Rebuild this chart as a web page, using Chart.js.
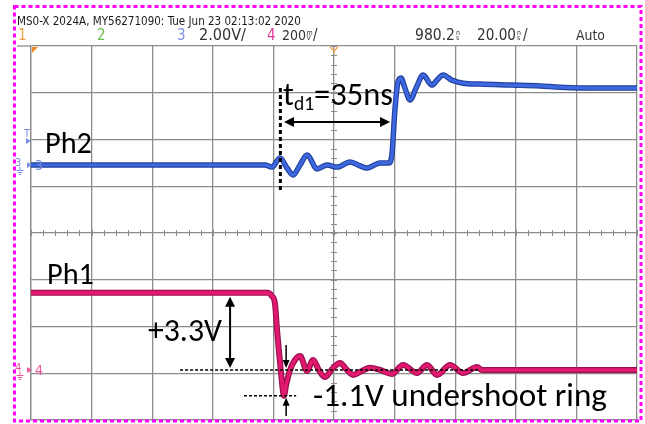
<!DOCTYPE html>
<html>
<head>
<meta charset="utf-8">
<script src="https://cdn.jsdelivr.net/npm/chart.js@4.4.1/dist/chart.umd.min.js"></script>
<style>
  html, body { margin: 0; padding: 0; background: #ffffff; }
  canvas { display: block; }
</style>
</head>
<body>
<canvas id="scope" width="645" height="424"></canvas>
<script>
// ---- Acquisition data (time in ns from left graticule edge, volts relative to channel ground) ----
const ph2Time  = [0, 20, 40, 60, 77.2, 79.5, 82.2, 84.5, 86.5, 88.8, 91.1, 94.4, 97.7, 101, 105.3, 108.6, 110.9, 115.2, 118.1, 119.1, 120.1, 121.1, 122.1, 123.4, 125.1, 127.1, 129.4, 132.3, 134, 136, 138.9, 142.6, 148.2, 158.1, 168, 174.6, 187.8, 200];
const ph2Volts = [0, 0, 0, 0, 0, -0.09, 0.30, -0.13, -0.43, 0, 0.43, -0.17, 0, -0.09, 0.13, -0.04, -0.13, 0.09, 0.09, 0.43, 2.35, 3.55, 3.72, 3.29, 2.78, 3.29, 3.85, 3.42, 3.63, 3.85, 3.63, 3.50, 3.46, 3.42, 3.38, 3.33, 3.29, 3.29];

const ph1Time  = [0, 40, 78.2, 79.5, 80.5, 81.2, 81.8, 82.5, 83.5, 84.2, 85.5, 87.1, 88.8, 91.1, 93.1, 95, 97, 99.7, 102, 104.3, 106.3, 109.2, 111.9, 115.2, 119.1, 122.8, 127.4, 130.7, 134, 138.3, 142.6, 147.2, 148.8, 170, 200];
const ph1Volts = [3.3, 3.3, 3.3, 3.16, 2.86, 1.71, 0.85, -0.09, -1.1, -0.64, 0, 0.43, 0.60, -0.04, 0.43, 0, -0.30, 0.09, 0.30, 0, -0.21, -0.04, 0.09, 0, -0.17, 0.21, -0.13, 0.21, -0.21, 0.21, -0.13, 0.13, 0, 0, 0];

// Channel ground positions on the 2 V/div screen scale
const ph2Ground = 2.91;
const ph1Ground = -5.86;

// Annotated quantities
const ph1High = 3.3;        // +3.3V swing
const ph1Undershoot = -1.1; // -1.1V undershoot
const tdStart = 83.5;       // start of the delay measurement (ns)
const td1 = 35;             // t_d1 = 35 ns

// Screen graticule: 10 x 8 divisions
const timeMin = 0, timeMax = 200, timeDiv = 20;
const voltMin = -8, voltMax = 8, voltDiv = 2;

const GRID = '#8c8c8c';

function toPoints(times, volts, offset) {
  return times.map((t, i) => ({ x: t, y: volts[i] + offset }));
}

const ph2Points = toPoints(ph2Time, ph2Volts, ph2Ground);
const ph1Points = toPoints(ph1Time, ph1Volts, ph1Ground);

function traceSet(label, pts, color, width) {
  return {
    label, data: pts, borderColor: color, borderWidth: width,
    pointRadius: 0, fill: false, cubicInterpolationMode: 'monotone',
    borderJoinStyle: 'round', borderCapStyle: 'butt'
  };
}

// ---- Drawing helpers ----
function fitSize(ctx, text, width, family, weight) {
  ctx.font = `${weight || 'normal'} 100px ${family}`;
  return 100 * width / ctx.measureText(text).width;
}
function drawFitted(ctx, text, x, base, width, family, color, weight) {
  const s = fitSize(ctx, text, width, family, weight);
  ctx.font = `${weight || 'normal'} ${s}px ${family}`;
  ctx.fillStyle = color;
  ctx.textBaseline = 'alphabetic';
  ctx.textAlign = 'left';
  ctx.fillText(text, x, base);
  return s;
}
function drawAt(ctx, text, x, base, size, family, color) {
  ctx.font = `${size}px ${family}`;
  ctx.fillStyle = color;
  ctx.fillText(text, x, base);
}
function line(ctx, x1, y1, x2, y2) {
  ctx.beginPath(); ctx.moveTo(x1, y1); ctx.lineTo(x2, y2); ctx.stroke();
}
function head(ctx, tx, ty, dx, dy, len, half) {
  const n = Math.hypot(dx, dy); dx /= n; dy /= n;
  const bx = tx - dx * len, by = ty - dy * len;
  ctx.beginPath();
  ctx.moveTo(tx, ty);
  ctx.lineTo(bx - dy * half, by + dx * half);
  ctx.lineTo(bx + dy * half, by - dx * half);
  ctx.closePath(); ctx.fill();
}
function groundGlyph(ctx, x, y, color) {
  ctx.strokeStyle = color; ctx.lineWidth = 1;
  line(ctx, x, y, x, y + 3);
  line(ctx, x - 3.5, y + 3.5, x + 3.5, y + 3.5);
  line(ctx, x - 2.2, y + 5.5, x + 2.2, y + 5.5);
  line(ctx, x - 1, y + 7.5, x + 1, y + 7.5);
}
function rightTri(ctx, x, y, color) {
  ctx.fillStyle = color;
  ctx.beginPath(); ctx.moveTo(x, y - 3); ctx.lineTo(x + 5, y); ctx.lineTo(x, y + 3); ctx.closePath(); ctx.fill();
}
function stacked(ctx, top, bottom, x, base, color) {
  ctx.fillStyle = color;
  ctx.font = `7px ${NARROW}`;
  ctx.fillText(top, x, base - 5.5);
  ctx.fillText(bottom, x, base);
}

const NARROW = '"Liberation Sans Narrow", "DejaVu Sans Condensed", "Liberation Sans", sans-serif';
const LABEL = 'Carlito, Calibri, Lato, "Open Sans", sans-serif';

const scopeOverlay = {
  id: 'scopeOverlay',
  beforeDraw(chart) {
    const ctx = chart.ctx;
    ctx.save(); ctx.fillStyle = '#ffffff'; ctx.fillRect(0, 0, chart.width, chart.height); ctx.restore();
  },
  beforeDatasetsDraw(chart) {
    const ctx = chart.ctx, xs = chart.scales.x, ys = chart.scales.y;
    const cx = xs.getPixelForValue((timeMin + timeMax) / 2);
    const cy = ys.getPixelForValue(0);
    ctx.save();
    ctx.strokeStyle = GRID; ctx.lineWidth = 1;
    for (let t = timeMin; t <= timeMax; t += timeDiv / 5) {
      const x = Math.round(xs.getPixelForValue(t)) + 0.5;
      line(ctx, x, cy - 3, x, cy + 3);
    }
    for (let v = voltMin; v <= voltMax + 1e-6; v += voltDiv / 5) {
      const y = Math.round(ys.getPixelForValue(v)) + 0.5;
      line(ctx, cx - 3, y, cx + 3, y);
    }
    // top rule runs out to the left edge of the display
    ctx.lineWidth = 1.3;
    line(ctx, 17, chart.chartArea.top, chart.chartArea.left, chart.chartArea.top);
    ctx.restore();
  },
  afterDraw(chart) {
    const ctx = chart.ctx, xs = chart.scales.x, ys = chart.scales.y;
    const X = t => xs.getPixelForValue(t);
    const Y = v => ys.getPixelForValue(v);
    ctx.save();
    ctx.textBaseline = 'alphabetic'; ctx.textAlign = 'left';

    // ---- header lines ----
    drawFitted(ctx, 'MS0-X 2024A, MY56271090: Tue Jun 23 02:13:02 2020', 17, 25, 284, NARROW, '#1a1a1a');
    const hb = 40;
    drawAt(ctx, '1', 18, hb, 15, NARROW, '#f0a040');
    drawAt(ctx, '2', 97, hb, 15, NARROW, '#6abf4b');
    drawAt(ctx, '3', 177, hb, 15, NARROW, '#7c8ee0');
    drawFitted(ctx, '2.00V/', 199, hb, 47, NARROW, '#333333');
    drawAt(ctx, '4', 267, hb, 15, NARROW, '#e0409a');
    drawFitted(ctx, '200', 282, hb, 24, NARROW, '#333333');
    stacked(ctx, 'm', 'V', 306.5, hb, '#333333');
    drawAt(ctx, '/', 313, hb, 15, NARROW, '#333333');
    drawFitted(ctx, '980.2', 415, hb, 40, NARROW, '#333333');
    stacked(ctx, 'n', 's', 456, hb, '#333333');
    drawFitted(ctx, '20.00', 477, hb, 39, NARROW, '#333333');
    stacked(ctx, 'n', 's', 517, hb, '#333333');
    drawAt(ctx, '/', 523, hb, 15, NARROW, '#333333');
    drawFitted(ctx, 'Auto', 576, hb, 29, NARROW, '#333333');

    // ---- trigger / ground markers ----
    const top = chart.chartArea.top, left = chart.chartArea.left;
    ctx.fillStyle = '#f08a24';
    ctx.beginPath(); ctx.moveTo(left + 1, top + 1); ctx.lineTo(left + 7, top + 1); ctx.lineTo(left + 1, top + 7); ctx.closePath(); ctx.fill();
    const tc = X((timeMin + timeMax) / 2);
    ctx.strokeStyle = '#f0a040'; ctx.lineWidth = 1.2;
    ctx.beginPath(); ctx.moveTo(tc - 4, top + 1); ctx.lineTo(tc, top + 5); ctx.lineTo(tc + 4, top + 1); ctx.stroke();
    line(ctx, tc, top + 5, tc, top + 8);

    const c3 = '#7c8ee0', c4 = '#e8589a';
    drawAt(ctx, 'T', 24, 137, 11, NARROW, c3);
    rightTri(ctx, 26, 141, c3);
    const g3 = Y(ph2Ground);
    drawAt(ctx, '3', 15, g3 + 1, 11, NARROW, c3);
    groundGlyph(ctx, 20, g3 + 2, c3);
    rightTri(ctx, 27, g3, c3);
    drawAt(ctx, '3', 35, g3 + 5, 14, NARROW, c3);
    const g4 = Y(ph1Ground);
    drawAt(ctx, '4', 15, g4 + 1, 11, NARROW, c4);
    groundGlyph(ctx, 20, g4 + 2, c4);
    rightTri(ctx, 27, g4, c4);
    drawAt(ctx, '4', 35, g4 + 5, 14, NARROW, c4);

    // ---- annotations ----
    ctx.strokeStyle = '#000'; ctx.fillStyle = '#000';

    // delay marker: dashed edge line and double arrow spanning t_d1
    ctx.lineWidth = 3; ctx.setLineDash([4, 3]);
    line(ctx, X(tdStart - 1.2), 88, X(tdStart - 1.2), 190);
    ctx.setLineDash([]);
    ctx.lineWidth = 2;
    const ay = 122, ax1 = X(tdStart), ax2 = X(tdStart + td1);
    line(ctx, ax1 + 6, ay, ax2 - 6, ay);
    head(ctx, ax1, ay, -1, 0, 10, 5);
    head(ctx, ax2, ay, 1, 0, 10, 5);

    // +3.3V swing arrow
    const sx = X(65.7), yHi = Y(ph1Ground + ph1High) + 4, yLo = Y(ph1Ground) - 2;
    line(ctx, sx, yHi + 6, sx, yLo - 6);
    head(ctx, sx, yHi, 0, -1, 10, 5);
    head(ctx, sx, yLo, 0, 1, 10, 5);

    // ground and undershoot reference lines
    ctx.lineWidth = 1.5; ctx.setLineDash([3, 2]);
    line(ctx, X(49.2), Y(ph1Ground), X(148.2), Y(ph1Ground));
    line(ctx, X(70.3), Y(ph1Ground + ph1Undershoot), X(87.5), Y(ph1Ground + ph1Undershoot));
    ctx.setLineDash([]);
    ctx.lineWidth = 1.5;
    const ux = X(84.2);
    line(ctx, ux, 345, ux, Y(ph1Ground) - 8);
    head(ctx, ux, Y(ph1Ground) - 2, 0, 1, 8, 3.5);
    line(ctx, ux, 416, ux, Y(ph1Ground + ph1Undershoot) + 8);
    head(ctx, ux, Y(ph1Ground + ph1Undershoot) + 2, 0, -1, 8, 3.5);

    // ---- text labels ----
    drawFitted(ctx, 'Ph2', 45, 153, 47, LABEL, '#000');
    drawFitted(ctx, 'Ph1', 47, 284, 47, LABEL, '#000');
    drawFitted(ctx, '+3.3V', 148, 341, 74, LABEL, '#000');
    drawFitted(ctx, '-1.1V undershoot ring', 313, 406, 294, LABEL, '#000');

    // t_d1=35ns with subscript
    ctx.font = `100px ${LABEL}`;
    const wT = ctx.measureText('t').width, wEq = ctx.measureText('=35ns').width;
    ctx.font = `60px ${LABEL}`;
    const wSub = ctx.measureText('d1').width;
    const S = 100 * 110 / (wT + wSub + wEq);
    let tx = 283; const tb = 105;
    ctx.fillStyle = '#000';
    ctx.font = `${S}px ${LABEL}`; ctx.fillText('t', tx, tb); tx += ctx.measureText('t').width;
    ctx.font = `${S * 0.6}px ${LABEL}`; ctx.fillText('d1', tx, tb + 5); tx += ctx.measureText('d1').width;
    ctx.font = `${S}px ${LABEL}`; ctx.fillText('=35ns', tx, tb);

    // ---- dotted frame ----
    ctx.strokeStyle = '#ff00ff'; ctx.lineWidth = 3; ctx.setLineDash([4, 3]);
    ctx.strokeRect(14.5, 6.5, 626.5, 414.5);
    ctx.restore();
  }
};

// Lower dataset index is painted last, so the bright cores come first
new Chart(document.getElementById('scope'), {
  type: 'line',
  data: {
    datasets: [
      traceSet('Ph2', ph2Points, '#3d68e0', 3.2),
      traceSet('Ph1', ph1Points, '#e2196e', 3.6),
      traceSet('Ph2 edge', ph2Points, '#22409c', 5.5),
      traceSet('Ph1 edge', ph1Points, '#9a1050', 6)
    ]
  },
  options: {
    responsive: false,
    animation: false,
    events: [],
    layout: { padding: { left: 31, right: 8, top: 46, bottom: 4 } },
    plugins: { legend: { display: false }, tooltip: { enabled: false } },
    scales: {
      x: {
        type: 'linear', min: timeMin, max: timeMax,
        ticks: { display: false, stepSize: timeDiv },
        grid: { color: GRID, lineWidth: 1.3, drawTicks: false },
        border: { display: true, color: GRID, width: 1.3 },
        afterFit(s) { s.height = 0; }
      },
      y: {
        type: 'linear', min: voltMin, max: voltMax,
        ticks: { display: false, stepSize: voltDiv },
        grid: { color: GRID, lineWidth: 1.3, drawTicks: false },
        border: { display: true, color: GRID, width: 1.3 },
        afterFit(s) { s.width = 0; }
      }
    }
  },
  plugins: [scopeOverlay]
});
</script>
</body>
</html>
